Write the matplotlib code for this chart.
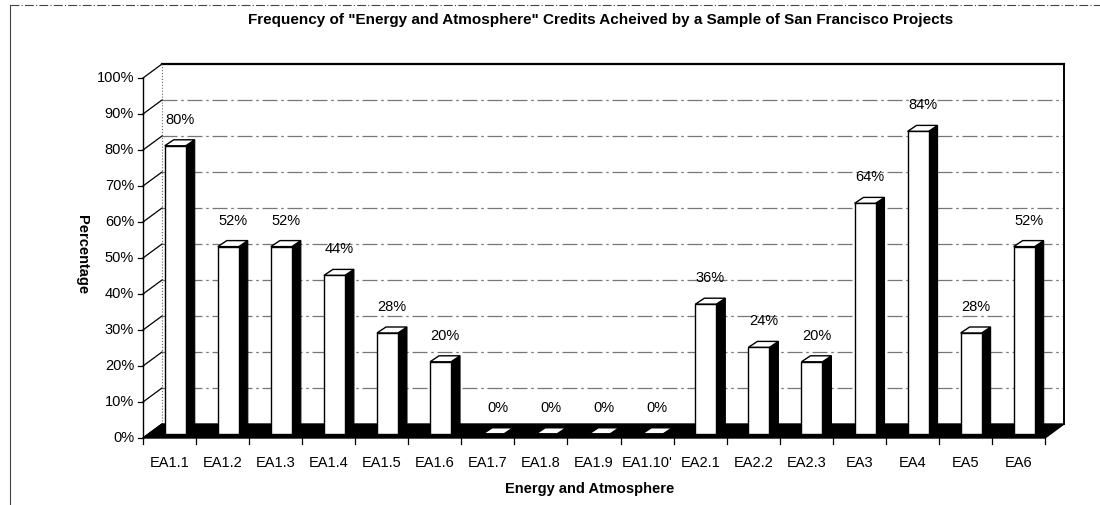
import matplotlib.pyplot as plt
from matplotlib.patches import Polygon

plt.rcParams['font.family'] = ['Liberation Sans', 'DejaVu Sans']

categories = ['EA1.1', 'EA1.2', 'EA1.3', 'EA1.4', 'EA1.5', 'EA1.6', 'EA1.7', 'EA1.8', 'EA1.9',
              "EA1.10'", 'EA2.1', 'EA2.2', 'EA2.3', 'EA3', 'EA4', 'EA5', 'EA6']
values = [80, 52, 52, 44, 28, 20, 0, 0, 0, 0, 36, 24, 20, 64, 84, 28, 52]
yticks = [0, 10, 20, 30, 40, 50, 60, 70, 80, 90, 100]

# pixel layout -> data coords (x: category units, y: percent)
PX_X0, PX_UNIT = 143.0, 53.06
PX_Y0, PX_PCT = 438.0, 3.6
W, H = 1100, 505

def dx(px):
    return px / PX_UNIT

def dy(px):
    return px / PX_PCT

DX, DY = dx(19), dy(14)          # depth of the 3d box
n = len(categories)

fig = plt.figure(figsize=(11, 5.05), dpi=100)
ax = fig.add_axes([0, 0, 1, 1])
ax.set_xlim(-PX_X0 / PX_UNIT, (W - PX_X0) / PX_UNIT)
ax.set_ylim((PX_Y0 - H) / PX_PCT, PX_Y0 / PX_PCT)
ax.axis('off')

# outer frame of the chart
ax.plot([dx(10 - PX_X0)] * 2, [dy(PX_Y0 - 5), dy(PX_Y0 - 505)], color='#444', lw=0.8)
ax.plot([dx(10 - PX_X0), dx(W - PX_X0)], [dy(PX_Y0 - 5)] * 2, color='#444', lw=0.8, ls=(0, (8, 2, 1, 2)))

# back wall gridlines
for t in yticks[1:-1]:
    ax.plot([DX, n + DX], [t + DY, t + DY], color='#777', lw=0.9, ls=(0, (12, 3, 2, 3)), zorder=1)
ax.plot([DX, n + DX], [100 + DY, 100 + DY], color='black', lw=1.6, zorder=1)
ax.plot([DX, DX], [DY, 100 + DY], color='#666', lw=0.8, ls=':', zorder=1)
ax.plot([n + DX, n + DX], [DY, 100 + DY], color='black', lw=1.4, zorder=1)

# side wall gridlines
for t in yticks:
    ax.plot([0, DX], [t, t + DY], color='black', lw=0.9, zorder=2)
ax.plot([0, 0], [0, 100], color='black', lw=1.0, zorder=2)

# floor
ax.add_patch(Polygon([(0, 0), (n, 0), (n + DX, DY), (DX, DY)], closed=True,
                     facecolor='black', edgecolor='black', zorder=2))

# y ticks and labels
for t in yticks:
    ax.plot([dx(-5), 0], [t, t], color='black', lw=0.9, zorder=2)
    ax.text(dx(-9), t, f'{t}%', ha='right', va='center', fontsize=10.5)

# x ticks and labels
for i in range(n + 1):
    ax.plot([i, i], [0, dy(-6)], color='black', lw=0.9)
for i, c in enumerate(categories):
    ax.text(i + 0.5, dy(-25), c, ha='center', va='center', fontsize=10.5)

# bars
bw = dx(21)
bd_x, bd_y = dx(9), dy(6)
off_x, off_y = 0.3 * DX, 0.3 * DY
for i, v in enumerate(values):
    x0 = i + 0.5 - bw / 2 + off_x
    y0 = off_y
    x1 = x0 + bw
    y1 = v + off_y
    side = Polygon([(x1, y0), (x1 + bd_x, y0 + bd_y), (x1 + bd_x, y1 + bd_y), (x1, y1)],
                   closed=True, facecolor='black', edgecolor='black', lw=0.8, zorder=3 + i)
    top = Polygon([(x0, y1), (x1, y1), (x1 + bd_x, y1 + bd_y), (x0 + bd_x, y1 + bd_y)],
                  closed=True, facecolor='white', edgecolor='black', lw=1.0, zorder=3 + i)
    front = Polygon([(x0, y0), (x1, y0), (x1, y1), (x0, y1)], closed=True,
                    facecolor='white', edgecolor='black', lw=1.0, zorder=3 + i)
    ax.add_patch(side)
    ax.add_patch(top)
    ax.add_patch(front)
    ax.text(i + 0.5 + off_x + bd_x / 2, v + off_y + dy(26), f'{v}%',
            ha='center', va='center', fontsize=10.5, zorder=30)

# titles
ax.text(dx(601 - PX_X0), dy(PX_Y0 - 20),
        'Frequency of "Energy and Atmosphere" Credits Acheived by a Sample of San Francisco Projects',
        ha='center', va='center', fontsize=11, fontweight='bold')
ax.text(dx(590 - PX_X0), dy(PX_Y0 - 489), 'Energy and Atmosphere',
        ha='center', va='center', fontsize=10.5, fontweight='bold')
ax.text(dx(82 - PX_X0), dy(PX_Y0 - 255), 'Percentage', rotation=-90,
        ha='center', va='center', fontsize=10.5, fontweight='bold')

fig.savefig('out.png', dpi=100)
